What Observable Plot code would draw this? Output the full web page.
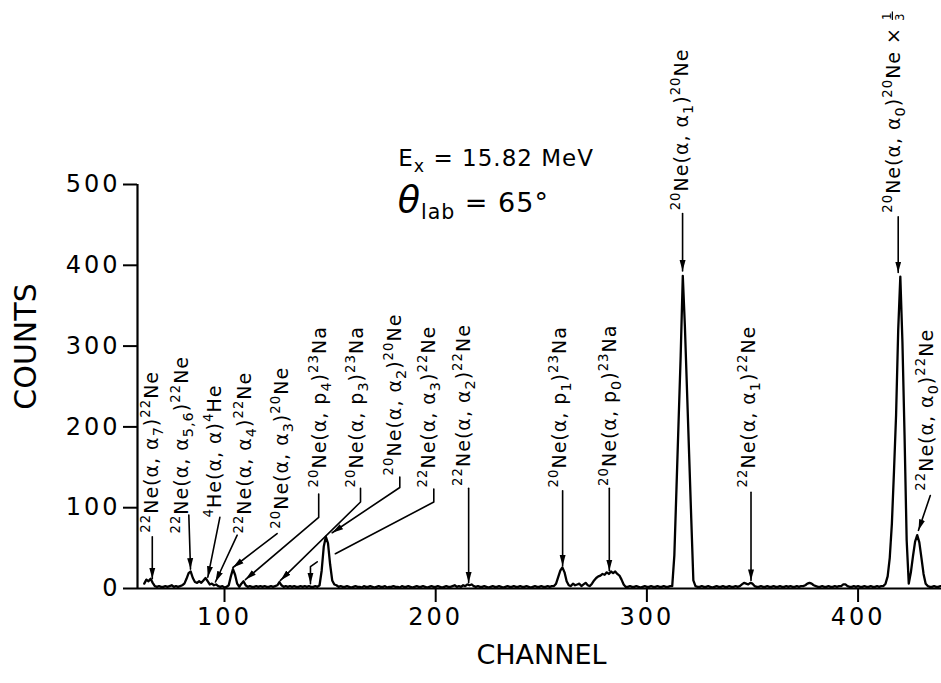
<!DOCTYPE html>
<html><head><meta charset="utf-8">
<script src="https://cdn.jsdelivr.net/npm/d3@7"></script>
<script src="https://cdn.jsdelivr.net/npm/@observablehq/plot@0.6"></script>
<style>
body{margin:0;background:#fff;}
#chart svg{display:block;}
#chart g[aria-label$="tick label"] text{letter-spacing:3px;}
</style></head><body><div id="chart"></div>
<script>
// ---- spectrum (counts per channel, starting at channel 62) ----
const startChannel = 62;
const counts = [
  6, 11, 9, 12, 7, 3, 2, 3, 2, 2,          // 62-71
  3, 2, 3, 4, 2, 3, 2, 3, 4, 6,            // 72-81
  12, 19, 21, 13, 8, 7, 9, 7, 10, 13,      // 82-91
  9, 5, 6, 4, 5, 3, 2, 3, 1, 2,            // 92-101
  4, 15, 24, 17, 6, 2, 6, 9, 4, 2,         // 102-111
  3, 2, 2, 3, 2, 3, 2, 3, 2, 2,            // 112-121
  3, 2, 3, 4, 8, 4, 2, 3, 2, 3,            // 122-131
  2, 3, 2, 2, 3, 2, 3, 2, 3, 2,            // 132-141
  2, 3, 2, 4, 22, 52, 64, 56, 30, 10,      // 142-151
  5, 4, 2, 3, 2, 2, 3, 2, 1, 2,            // 152-161
  3, 2, 2, 1, 3, 2, 2, 3, 2, 1,            // 162-171
  2, 3, 2, 2, 3, 1, 2, 2, 3, 2,            // 172-181
  2, 1, 3, 2, 2, 3, 2, 1, 2, 3,            // 182-191
  2, 2, 3, 2, 1, 2, 3, 2, 2, 3,            // 192-201
  2, 1, 2, 3, 2, 2, 3, 4, 2, 3,            // 202-211
  2, 4, 3, 5, 4, 5, 3, 2, 3, 2,            // 212-221
  2, 3, 2, 1, 2, 3, 2, 2, 3, 2,            // 222-231
  1, 2, 3, 2, 2, 3, 2, 2, 3, 2,            // 232-241
  2, 3, 2, 1, 2, 3, 2, 2, 3, 2,            // 242-251
  2, 3, 2, 3, 3, 6, 14, 22, 26, 20,        // 252-261
  9, 4, 3, 6, 4, 5, 6, 3, 5, 7,            // 262-271
  4, 3, 6, 10, 13, 15, 16, 18, 17, 20,     // 272-281
  18, 21, 19, 21, 18, 16, 11, 5, 2, 2,     // 282-291
  3, 2, 2, 3, 2, 1, 2, 3, 2, 2,            // 292-301
  3, 2, 2, 3, 2, 2, 3, 2, 2, 3,            // 302-311
  3, 41, 123, 206, 288, 387, 324, 245, 166, 87, // 312-321
  10, 3, 2, 2, 3, 2, 2, 3, 2, 1,           // 322-331
  2, 3, 2, 2, 3, 2, 2, 3, 2, 2,            // 332-341
  3, 2, 3, 5, 7, 6, 5, 7, 6, 3,            // 342-351
  2, 2, 3, 2, 2, 3, 2, 2, 3, 2,            // 352-361
  2, 3, 2, 2, 3, 2, 3, 2, 2, 3,            // 362-371
  2, 3, 3, 4, 6, 7, 6, 4, 3, 2,            // 372-381
  2, 3, 2, 2, 3, 2, 2, 3, 2, 3,            // 382-391
  3, 5, 5, 3, 2, 2, 3, 2, 3, 2,            // 392-401
  2, 3, 2, 2, 3, 2, 2, 3, 2, 3,            // 402-411
  3, 6, 15, 38, 80, 145, 215, 320, 386, 305, // 412-421
  190, 60, 6, 20, 40, 58, 66, 57, 38, 18,  // 422-431
  6, 3, 2, 2, 3, 2, 2, 3                   // 432-439
];

// ---- axes ----
const xDomain = [58.8, 439.5];
const yDomain = [0, 500];
const xTicks = [100, 200, 300, 400];
const yTicks = [0, 100, 200, 300, 400, 500];
const xTitle = "CHANNEL";
const yTitle = "COUNTS";

// ---- peak labels (rotated) ----
const labelTexts = [
  "^{22}Ne(α, α_{7})^{22}Ne",
  "^{22}Ne(α, α_{5,6})^{22}Ne",
  "^{4}He(α, α)^{4}He",
  "^{22}Ne(α, α_{4})^{22}Ne",
  "^{20}Ne(α, α_{3})^{20}Ne",
  "^{20}Ne(α, p_{4})^{23}Na",
  "^{20}Ne(α, p_{3})^{23}Na",
  "^{20}Ne(α, α_{2})^{20}Ne",
  "^{22}Ne(α, α_{3})^{22}Ne",
  "^{22}Ne(α, α_{2})^{22}Ne",
  "^{20}Ne(α, p_{1})^{23}Na",
  "^{20}Ne(α, p_{0})^{23}Na",
  "^{22}Ne(α, α_{1})^{22}Ne",
  "^{20}Ne(α, α_{1})^{20}Ne",
  "^{20}Ne(α, α_{0})^{20}Ne × #{1/3}",
  "^{22}Ne(α, α_{0})^{22}Ne"
];
const labelChannels = [65.5, 80.0, 95.3, 109.5, 127.3, 145.4, 162.9, 180.9, 196.7, 213.3, 259.0, 282.7, 348.1, 316.6, 417.1, 432.4];
const labelCounts   = [69, 68, 88, 68, 74, 125, 125, 140, 125, 127, 125, 127, 125, 468, 465, 121];

// ---- leader lines (polylines, last point gets the arrowhead) ----
const leaderIds = [
  "a7","a7", "a56","a56", "he4","he4", "a4","a4", "a3","a3",
  "p4","p4","p4", "p3","p3","p3", "a2","a2","a2",
  "tail","tail","tail", "a2b","a2b", "p1","p1", "p0","p0",
  "a1b","a1b", "a1","a1", "a0","a0", "a0b","a0b"
];
const leaderChannels = [
  65.8, 65.8, 83.1, 83.9, 97.8, 92.1, 106.0, 95.7, 124.9, 104.0,
  144.6, 144.6, 109.9, 164.4, 164.4, 126.5, 183.0, 183.0, 151.0,
  143.9, 140.7, 140.7, 215.6, 215.6, 260.1, 260.1, 282.2, 282.2,
  349.3, 349.3, 316.9, 316.9, 419.0, 419.0, 434.2, 428.6
];
const leaderCounts = [
  64, 12, 91, 24, 88, 14, 66, 8, 68, 26,
  117, 88, 11, 124, 107, 10, 138, 125, 69,
  33, 27, 6, 124, 7, 121, 28, 124, 22,
  119, 10, 464, 393, 460, 391, 115, 72
];
// leader without arrowhead (22Ne(α,α3) hidden under the α2 peak)
const plainChannels = [199.1, 199.1, 152.5];
const plainCounts = [123, 107, 43];

// ---- conditions text ----
const condTexts = ["E_{x} = 15.82 MeV", "*{θ}_{lab} = 65°"];
const condChannels = [182.3, 182.0];
const condCounts = [523, 466];

// ---- build tables ----
const spectrum = counts.map((c, i) => ({ch: startChannel + i, cnt: c}));
const labels = labelTexts.map((t, i) => ({text: t, ch: labelChannels[i], cnt: labelCounts[i]}));
const leaders = leaderIds.map((id, i) => ({id, ch: leaderChannels[i], cnt: leaderCounts[i]}));
const plain = plainChannels.map((c, i) => ({ch: c, cnt: plainCounts[i]}));
const conds = condTexts.map((t, i) => ({text: t, ch: condChannels[i], cnt: condCounts[i]}));

const chart = Plot.plot({
  width: 941,
  height: 683,
  marginLeft: 137,
  marginRight: 0,
  marginTop: 184,
  marginBottom: 95,
  style: {fontFamily: "'DejaVu Sans', sans-serif", fontSize: "16px", color: "black", background: "white"},
  x: {domain: xDomain},
  y: {domain: yDomain},
  marks: [
    Plot.axisX({ticks: xTicks, tickSize: 14, tickPadding: 5, fontSize: 24, label: null, strokeWidth: 2}),
    Plot.axisY({ticks: yTicks, tickSize: 14, tickPadding: 3, fontSize: 24, label: null, strokeWidth: 2}),
    Plot.ruleY([yDomain[0]], {strokeWidth: 2.2}),
    Plot.ruleX([{x: xDomain[0], y1: yDomain[0], y2: yDomain[1]}], {x: "x", y1: "y1", y2: "y2", strokeWidth: 2.2}),
    Plot.line(spectrum, {x: "ch", y: "cnt", strokeWidth: 2.3, strokeLinejoin: "round"}),
    Plot.line(leaders, {x: "ch", y: "cnt", z: "id", strokeWidth: 1.6, markerEnd: "arrow"}),
    Plot.line(plain, {x: "ch", y: "cnt", strokeWidth: 1.6}),
    Plot.text(labels, {x: "ch", y: "cnt", text: "text", rotate: -90, textAnchor: "start", lineAnchor: "middle", fontSize: 19}),
    Plot.text(conds.slice(0, 1), {x: "ch", y: "cnt", text: "text", textAnchor: "start", lineAnchor: "bottom", fontSize: 23}),
    Plot.text(conds.slice(1, 2), {x: "ch", y: "cnt", text: "text", textAnchor: "start", lineAnchor: "bottom", fontSize: 27}),
    Plot.text([yTitle], {text: d => d, frameAnchor: "left", dx: -111, dy: -40, rotate: -90, fontSize: 30, textAnchor: "middle", lineAnchor: "middle"}),
    Plot.text([xTitle], {text: d => d, frameAnchor: "bottom", dx: 2, dy: 67, fontSize: 27, textAnchor: "middle", lineAnchor: "middle"})
  ]
});
document.getElementById("chart").append(chart);

// filled arrowheads
chart.querySelectorAll("marker").forEach(m => {
  m.setAttribute("viewBox", "-11 -4 12 8");
  m.setAttribute("markerUnits", "userSpaceOnUse");
  m.setAttribute("markerWidth", 12);
  m.setAttribute("markerHeight", 8);
  m.setAttribute("fill", "black");
  m.setAttribute("stroke", "none");
  const p = m.querySelector("path");
  if (p) p.setAttribute("d", "M-11,-3L0,0L-11,3Z");
});

// superscripts / subscripts / fraction
function parseRich(s) {
  return s.split(/(\^\{[^}]*\}|_\{[^}]*\}|\*\{[^}]*\}|#\{[^}]*\})/).filter(p => p !== "").map(p => {
    const m = p.match(/^([\^_*#])\{(.*)\}$/);
    return m ? {kind: m[1], text: m[2]} : {kind: "", text: p};
  });
}
function richify(svg) {
  const ns = "http://www.w3.org/2000/svg";
  svg.querySelectorAll("text").forEach(t => {
    const s = t.textContent;
    if (!/[\^_*#]\{/.test(s)) return;
    const fs = parseFloat(getComputedStyle(t).fontSize) || 16;
    t.textContent = "";
    t.style.letterSpacing = "1px";
    let shift = 0;
    const add = (txt, size, target, extra) => {
      const sp = document.createElementNS(ns, "tspan");
      sp.textContent = txt;
      sp.setAttribute("font-size", size);
      const d = target - shift;
      if (d) sp.setAttribute("dy", d);
      shift = target;
      if (extra) extra(sp);
      t.appendChild(sp);
      return sp;
    };
    for (const seg of parseRich(s)) {
      if (seg.kind === "^") add(seg.text, 0.7 * fs, -0.42 * fs);
      else if (seg.kind === "_") add(seg.text, 0.76 * fs, 0.26 * fs);
      else if (seg.kind === "*") add(seg.text, 1.35 * fs, 0, sp => sp.setAttribute("font-style", "italic"));
      else if (seg.kind === "#") {
        const [n, d] = seg.text.split("/");
        const num = add(n, 0.62 * fs, -0.5 * fs, sp => sp.setAttribute("text-decoration", "underline"));
        const w = num.getComputedTextLength();
        add(d, 0.62 * fs, 0.2 * fs, sp => sp.setAttribute("dx", -w - 1));
      } else add(seg.text, fs, 0);
    }
  });
}
richify(chart);
</script>
</body></html>
